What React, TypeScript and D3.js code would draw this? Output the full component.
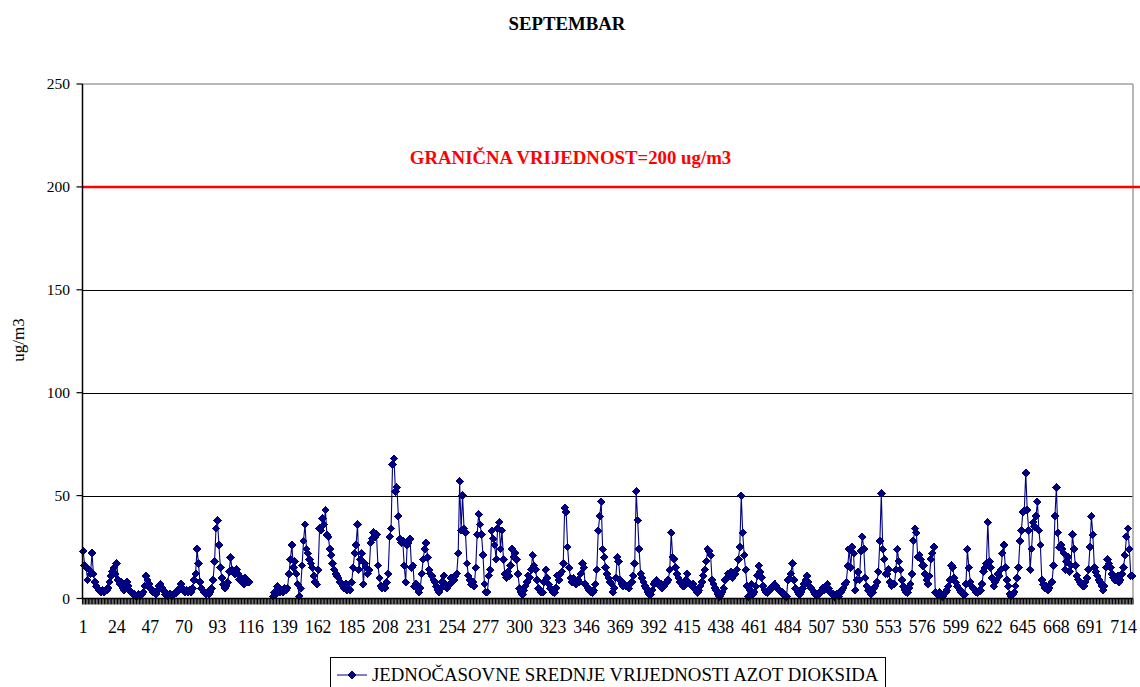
import React from "react";
import * as d3 from "d3";

// Hourly NO2 values (ug/m3), September, 24 values per day
const hourlyNO2: (number | null)[] = [
  23,16,15,9,14,12,22,12,8,6,5,4,3,4,3,4,4,5,8,11,13,15,12,17,
  9,7,8,5,4,6,8,6,4,3,2,2,1,1,2,1,2,3,6,11,9,7,5,4,
  3,3,2,4,6,7,5,4,2,2,1,2,2,1,2,3,3,4,5,7,5,4,3,4,
  3,4,3,5,9,12,24,17,8,5,4,3,2,3,2,3,5,9,18,34,38,26,15,10,
  7,5,6,8,13,20,14,13,12,14,12,9,10,8,7,10,9,8,8,null,null,null,null,null,
  null,null,null,null,null,null,null,null,null,null,1,3,2,6,4,3,4,3,5,4,5,12,19,26,
  15,18,12,7,1,5,16,28,36,24,22,19,17,15,11,8,7,14,34,33,39,36,43,31,
  30,24,21,17,14,12,11,10,8,7,6,5,7,4,5,4,8,15,22,26,36,14,19,22,
  7,17,15,12,14,27,29,32,30,31,16,10,6,5,6,5,8,12,30,34,65,68,52,54,
  40,29,27,28,16,8,26,27,29,15,16,6,7,5,3,5,12,19,24,27,20,14,12,11,
  9,8,6,4,3,5,8,11,7,5,6,7,10,8,9,11,12,22,57,33,50,34,32,17,
  11,9,7,8,6,15,31,41,36,31,21,7,3,3,11,14,33,29,26,19,34,37,24,33,
  19,12,10,13,11,16,24,20,22,19,12,5,3,2,4,6,8,11,10,14,21,16,14,9,
  5,4,3,3,8,14,10,7,5,4,3,3,5,11,9,12,13,17,44,42,25,15,10,8,
  10,8,7,9,8,12,17,15,7,6,5,4,3,3,4,7,14,33,40,47,24,20,15,12,
  10,8,7,3,5,10,20,18,9,7,6,7,6,6,5,7,8,11,17,52,38,24,12,10,
  8,6,5,3,2,2,4,7,8,9,8,6,7,5,6,7,8,9,14,32,20,19,15,12,
  10,8,7,6,6,9,12,8,7,6,7,5,4,3,4,6,8,11,14,18,24,23,21,9,
  7,5,4,2,1,2,3,5,9,10,12,11,13,10,12,12,14,19,25,50,32,21,14,6,
  1,4,7,2,3,6,11,16,13,10,6,4,3,3,4,5,5,6,7,6,5,4,3,3,
  2,1,1,9,10,12,17,9,5,4,3,2,3,5,7,9,11,8,6,5,4,3,2,2,
  2,3,4,5,4,6,7,5,3,2,2,1,2,2,1,3,4,5,7,8,16,24,15,25,
  22,4,9,13,9,23,30,24,10,6,4,3,2,3,5,6,8,13,28,51,24,19,12,12,
  14,8,6,7,7,14,24,18,14,9,6,4,3,3,5,7,12,28,34,32,20,21,19,16,
  16,12,9,7,11,19,22,25,3,2,2,3,2,1,2,3,4,6,9,16,15,10,8,6,
  5,4,3,2,2,7,24,15,8,6,5,4,3,3,4,4,7,13,15,17,37,18,15,10,
  6,8,9,12,11,14,22,26,15,9,6,2,1,2,3,6,10,15,28,33,42,43,61,43,
  33,14,24,37,35,40,47,33,26,9,7,5,6,4,5,7,8,16,40,54,32,25,26,24,
  22,14,18,20,13,16,31,24,16,11,9,8,7,6,6,8,10,14,25,40,31,15,13,11,
  9,8,6,4,6,15,19,17,15,12,10,9,10,11,8,9,12,15,21,30,34,24,11,11,
];

const categories: string[] = hourlyNO2.map((_, i) => String(i + 1));

const xTickLabels: string[] = [
  "1","24","47","70","93","116","139","162","185","208","231","254","277","300","323","346",
  "369","392","415","438","461","484","507","530","553","576","599","622","645","668","691","714",
];

const yTicks: number[] = [0, 50, 100, 150, 200, 250];
const limitValue = 200;
const titleText = "SEPTEMBAR";
const limitLabel = "GRANIČNA VRIJEDNOST=200 ug/m3";
const yAxisTitle = "ug/m3";
const seriesName = "JEDNOČASOVNE SREDNJE VRIJEDNOSTI AZOT DIOKSIDA";

const W = 1140;
const H = 687;
const plotLeft = 82.5;
const plotRight = 1133;
const plotTop = 84;
const plotBottom = 598.5;
const serif = "Liberation Serif, DejaVu Serif, serif";
const navy = "#000080";

function diamond(cx: number, cy: number, r: number) {
  return `M${cx},${cy - r}L${cx + r},${cy}L${cx},${cy + r}L${cx - r},${cy}Z`;
}

export default function App() {
  const x = d3.scaleBand<string>().domain(categories).range([plotLeft, plotRight]).padding(0);
  const y = d3.scaleLinear().domain([0, 250]).range([plotBottom, plotTop]);
  const bw = x.bandwidth();
  const cx = (i: number) => (x(categories[i]) as number) + bw / 2;

  const lineGen = d3
    .line<number | null>()
    .defined((d) => d !== null)
    .x((_, i) => cx(i))
    .y((d) => y(d as number));

  const linePath = lineGen(hourlyNO2) || "";

  const tickPositions = categories.map((c) => x(c) as number).concat([plotRight]);
  const txt = { fontFamily: serif };

  return (
    <svg
      width={W}
      height={H}
      style={{ position: "absolute", left: 0, top: 0, background: "#fff", fontFamily: serif }}
    >
      <rect x={0} y={0} width={W} height={H} fill="#fff" />
      <text x={567} y={30} textAnchor="middle" fontWeight="bold" fontSize={18.8} style={txt}>
        {titleText}
      </text>

      {/* gridlines */}
      {yTicks
        .filter((t) => t > 0 && t < 250 && t !== limitValue)
        .map((t) => (
          <line key={t} x1={plotLeft} x2={plotRight} y1={Math.round(y(t)) + 0.5} y2={Math.round(y(t)) + 0.5} stroke="#000" strokeWidth={1} />
        ))}
      <line x1={plotLeft} x2={plotRight} y1={y(250)} y2={y(250)} stroke="#a0a0a0" strokeWidth={1.5} />
      <line x1={plotRight} x2={plotRight} y1={y(250)} y2={plotBottom} stroke="#a0a0a0" strokeWidth={1.5} />

      {/* limit line */}
      <line x1={plotLeft} x2={1140} y1={y(limitValue)} y2={y(limitValue)} stroke="#ff0000" strokeWidth={2.5} />
      <text x={570.5} y={164} textAnchor="middle" fontWeight="bold" fontSize={18.8} fill="#ff0000" style={txt}>
        {limitLabel}
      </text>

      {/* series */}
      <path d={linePath} fill="none" stroke={navy} strokeWidth={1.1} />
      {hourlyNO2.map((d, i) =>
        d === null ? null : <path key={i} d={diamond(cx(i), y(d), 4.3)} fill={navy} shapeRendering="crispEdges" />
      )}

      {/* y axis */}
      <line x1={plotLeft} x2={plotLeft} y1={plotTop} y2={plotBottom} stroke="#000" strokeWidth={1.5} />
      {yTicks.map((t) => (
        <g key={t}>
          <line x1={plotLeft - 6} x2={plotLeft} y1={y(t)} y2={y(t)} stroke="#000" strokeWidth={1.2} />
          <text x={70} y={y(t) + 5} textAnchor="end" fontSize={15.5} style={txt}>
            {t}
          </text>
        </g>
      ))}
      <text transform={`translate(24,340) rotate(-90)`} textAnchor="middle" fontSize={17} style={txt}>
        {yAxisTitle}
      </text>

      {/* x axis */}
      <line x1={plotLeft} x2={plotRight} y1={plotBottom} y2={plotBottom} stroke="#000" strokeWidth={1.5} />
      {tickPositions.map((p, i) => (
        <line key={i} x1={p} x2={p} y1={plotBottom} y2={plotBottom + 6} stroke="#000" strokeWidth={1.15} />
      ))}
      {xTickLabels.map((lab) => (
        <text key={lab} x={cx(categories.indexOf(lab))} y={633} textAnchor="middle" fontSize={17.8} style={txt}>
          {lab}
        </text>
      ))}

      {/* legend */}
      <rect x={330.5} y={657.5} width={555} height={40} fill="#fff" stroke="#000" strokeWidth={1} />
      <line x1={337} x2={367} y1={675} y2={675} stroke={navy} strokeWidth={1} />
      <path d={diamond(352, 675, 4.3)} fill={navy} shapeRendering="crispEdges" />
      <text x={372} y={681} fontSize={18.8} style={txt}>
        {seriesName}
      </text>
    </svg>
  );
}
